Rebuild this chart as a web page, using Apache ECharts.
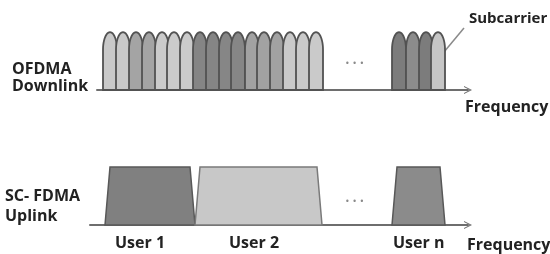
<!DOCTYPE html>
<html>
<head>
<meta charset="utf-8">
<script src="https://cdn.jsdelivr.net/npm/echarts@6/dist/echarts.min.js"></script>
<style>
  html, body { margin: 0; padding: 0; background: #fff; }
  #chart { width: 550px; height: 254px; }
</style>
</head>
<body>
<div id="chart"></div>
<script>
  // OFDMA downlink: subcarrier centres (frequency units) and shade of the user owning each one
  var ofdmaCenters = [20, 33, 46, 59, 72, 84, 97, 110, 123, 136, 148, 162, 174, 187, 200, 213, 226,
                      309, 323, 336, 348];
  var ofdmaShades = ['#c9c9c9', '#c9c9c9', '#a4a4a4', '#a4a4a4', '#cbcbcb', '#cbcbcb', '#cbcbcb',
                     '#858585', '#858585', '#868686', '#868686', '#a2a2a2', '#a2a2a2', '#a2a2a2',
                     '#cacaca', '#cacaca', '#cacaca',
                     '#7c7c7c', '#8c8c8c', '#7c7c7c', '#c6c6c6'];
  // SC-FDMA uplink: one contiguous band per user
  var scUsers = ['User 1', 'User 2', 'User n'];
  var scStart = [15, 105, 302];
  var scEnd = [105, 232, 355];
  var scShades = ['#808080', '#c8c8c8', '#8b8b8b'];

  var HALF = 7;     // half width of one subcarrier
  var EDGE = 5;     // slope of an SC-FDMA band

  var arrowPath = 'path://M0,10 L5,0 L10,10 L8.6,10 L5,2.8 L1.4,10 Z';

  function axisX(min, max, gridIndex) {
    return {
      type: 'value', gridIndex: gridIndex, min: min, max: max,
      axisLine: { show: true, symbol: ['none', arrowPath], symbolSize: [11, 8],
        lineStyle: { color: '#6e6e6e', width: 2 } },
      axisTick: { show: false }, axisLabel: { show: false }, splitLine: { show: false }
    };
  }
  function axisY(gridIndex) {
    return { type: 'value', gridIndex: gridIndex, min: 0, max: 1, show: false };
  }

  function renderBump(params, api) {
    var c = api.value(0);
    var p0 = api.coord([c - HALF, 0]);
    var p1 = api.coord([c + HALF, 0]);
    var top = api.coord([c, api.value(1)]);
    var cx = (p0[0] + p1[0]) / 2, w = (p1[0] - p0[0]) / 2;
    var capH = (p0[1] - top[1]) * 0.3;
    var shoulder = top[1] + capH;
    var pts = [[p0[0], p0[1]], [p0[0], shoulder]];
    for (var k = 1; k < 24; k++) {
      var t = Math.PI - Math.PI * k / 24;
      pts.push([cx + w * Math.cos(t), shoulder - capH * Math.sin(t)]);
    }
    pts.push([p1[0], shoulder], [p1[0], p0[1]]);
    return {
      type: 'polygon', shape: { points: pts },
      style: { fill: ofdmaShades[params.dataIndex], stroke: '#525252', lineWidth: 1.8 }
    };
  }

  function renderBand(params, api) {
    var s = api.value(0), e = api.value(1), h = api.value(2);
    var i = params.dataIndex;
    var pts = [api.coord([s, 0]), api.coord([s + EDGE, h]), api.coord([e - EDGE, h]), api.coord([e, 0])];
    return {
      type: 'polygon', shape: { points: pts },
      style: { fill: scShades[i], stroke: i === 1 ? '#7a7a7a' : '#585858', lineWidth: 1.5 }
    };
  }

  var txt = function (x, y, s, extra) {
    var st = { text: s, fill: '#222', font: 'bold 16px "Open Sans"', textVerticalAlign: 'middle' };
    for (var k in extra) st[k] = extra[k];
    return { type: 'text', left: x, top: y, style: st };
  };

  var chart = echarts.init(document.getElementById('chart'));
  chart.setOption({
    animation: false,
    grid: [
      { left: 97, top: 31, width: 371, height: 59 },
      { left: 90, top: 167, width: 378, height: 58 }
    ],
    xAxis: [axisX(7, 378, 0), axisX(0, 378, 1)],
    yAxis: [axisY(0), axisY(1)],
    series: [
      {
        type: 'custom', xAxisIndex: 0, yAxisIndex: 0,
        data: ofdmaCenters.map(function (c) { return [c, 0.98]; }),
        renderItem: renderBump
      },
      {
        type: 'custom', xAxisIndex: 1, yAxisIndex: 1,
        data: scUsers.map(function (u, i) { return { name: u, value: [scStart[i], scEnd[i], 1] }; }),
        renderItem: renderBand
      }
    ],
    graphic: [
      txt(12, 61, 'OFDMA'),
      txt(12, 78, 'Downlink'),
      txt(465, 99, 'Frequency'),
      txt(469, 11, 'Subcarrier', { font: 'bold 15px "Open Sans"' }),
      { type: 'line', shape: { x1: 444, y1: 52, x2: 464, y2: 28 },
        style: { stroke: '#8a8a8a', lineWidth: 1.5 } },
      { type: 'text', left: 345, top: 60, style: { text: '• • •', fill: '#8a8a8a', font: '8px "DejaVu Sans"' } },
      { type: 'text', left: 345, top: 198, style: { text: '• • •', fill: '#8a8a8a', font: '8px "DejaVu Sans"' } },
      txt(5, 188, 'SC- FDMA'),
      txt(5, 208, 'Uplink'),
      txt(115, 235, 'User 1'),
      txt(229, 235, 'User 2'),
      txt(393, 235, 'User n'),
      txt(467, 237, 'Frequency')
    ]
  });
</script>
</body>
</html>
